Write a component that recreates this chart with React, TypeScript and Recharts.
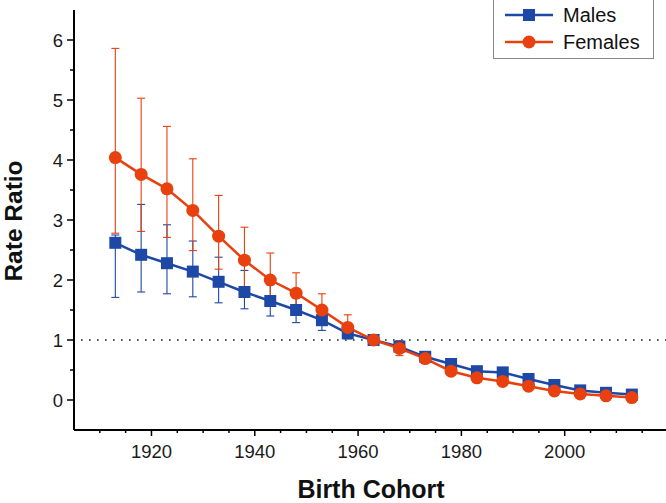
import { ComposedChart, Line, XAxis, YAxis, ErrorBar, ReferenceLine, Legend, Label } from 'recharts'

const years = [1913, 1918, 1923, 1928, 1933, 1938, 1943, 1948, 1953, 1958, 1963, 1968, 1973, 1978, 1983, 1988, 1993, 1998, 2003, 2008, 2013]
const males = [2.62, 2.42, 2.28, 2.14, 1.97, 1.80, 1.65, 1.50, 1.33, 1.11, 1.0, 0.89, 0.72, 0.6, 0.48, 0.46, 0.35, 0.25, 0.16, 0.12, 0.09]
const malesLow = [1.71, 1.8, 1.77, 1.72, 1.62, 1.52, 1.4, 1.29, 1.16, 1.02, 0.96, 0.83, 0.67, 0.55, 0.44, 0.42, 0.32, 0.22, 0.14, 0.1, 0.07]
const malesHigh = [2.75, 3.26, 2.92, 2.65, 2.38, 2.16, 1.92, 1.7, 1.52, 1.22, 1.04, 0.95, 0.77, 0.65, 0.52, 0.5, 0.38, 0.28, 0.18, 0.14, 0.11]
const females = [4.04, 3.76, 3.52, 3.16, 2.73, 2.33, 2.0, 1.78, 1.5, 1.21, 1.0, 0.86, 0.69, 0.48, 0.37, 0.31, 0.23, 0.15, 0.1, 0.07, 0.04]
const femalesLow = [2.78, 2.81, 2.71, 2.49, 2.18, 1.89, 1.64, 1.47, 1.25, 1.03, 0.96, 0.74, 0.62, 0.43, 0.33, 0.27, 0.2, 0.12, 0.08, 0.05, 0.02]
const femalesHigh = [5.86, 5.03, 4.56, 4.02, 3.41, 2.88, 2.45, 2.12, 1.77, 1.42, 1.05, 0.99, 0.77, 0.54, 0.42, 0.35, 0.27, 0.18, 0.12, 0.09, 0.06]

const xTicks = [1910, 1915, 1920, 1925, 1930, 1935, 1940, 1945, 1950, 1955, 1960, 1965, 1970, 1975, 1980, 1985, 1990, 1995, 2000, 2005, 2010, 2015]
const yTicks = [0, 0.5, 1, 1.5, 2, 2.5, 3, 3.5, 4, 4.5, 5, 5.5, 6]

const BLUE = '#1d48a6'
const RED = '#e8400e'
const FONT = '"Liberation Sans", Arial, sans-serif'

const data = years.map((year, i) => ({
  year,
  males: males[i],
  females: females[i],
  malesErr: [males[i] - malesLow[i], malesHigh[i] - males[i]],
  femalesErr: [females[i] - femalesLow[i], femalesHigh[i] - females[i]],
}))

const XTick = ({ x, y, payload }: any) => {
  const major = payload.value % 20 === 0
  return (
    <g>
      <line x1={x} x2={x} y1={y} y2={y + (major ? 6 : 3)} stroke="#000" strokeWidth={1.5} />
      {major && (
        <text x={x} y={y + 28} textAnchor="middle" fontSize={18.5} fontFamily={FONT} fill="#1a1a1a">
          {payload.value}
        </text>
      )}
    </g>
  )
}

const YTick = ({ x, y, payload }: any) => {
  const major = Number.isInteger(payload.value)
  return (
    <g>
      <line x1={x - (major ? 7 : 4)} x2={x} y1={y} y2={y} stroke="#000" strokeWidth={1.5} />
      {major && (
        <text x={x - 11} y={y + 6.5} textAnchor="end" fontSize={18.5} fontFamily={FONT} fill="#1a1a1a">
          {payload.value}
        </text>
      )}
    </g>
  )
}

const SquareDot = (p: any) => <rect key={p.index} x={p.cx - 6} y={p.cy - 6} width={12} height={12} fill={BLUE} />
const CircleDot = (p: any) => <circle key={p.index} cx={p.cx} cy={p.cy} r={6.5} fill={RED} />

const LegendBox = () => (
  <div style={{ position: 'relative', border: '1px solid #888', background: '#fff', width: 161, height: 60, boxSizing: 'border-box', fontFamily: FONT, fontSize: 20, color: '#111' }}>
    {[
      { name: 'Males', color: BLUE, square: true },
      { name: 'Females', color: RED, square: false },
    ].map((it, i) => (
      <div key={it.name} style={{ position: 'absolute', left: 10, top: 3 + i * 27, display: 'flex', alignItems: 'center', height: 24 }}>
        <svg width={50} height={16} style={{ marginRight: 9 }}>
          <line x1={1} x2={49} y1={8} y2={8} stroke={it.color} strokeWidth={2.5} />
          {it.square ? <rect x={19} y={2} width={12} height={12} fill={it.color} /> : <circle cx={25} cy={8} r={6.5} fill={it.color} />}
        </svg>
        <span>{it.name}</span>
      </div>
    ))}
  </div>
)

export default function App() {
  return (
    <div style={{ position: 'absolute', left: 0, top: 0, background: '#fff' }}>
      <ComposedChart width={666} height={503} data={data} margin={{ top: 10, right: -2, bottom: 0, left: 0 }}>
        <XAxis
          dataKey="year"
          type="number"
          domain={[1905, 2020]}
          ticks={xTicks}
          interval={0}
          tick={<XTick />}
          tickLine={false}
          tickSize={0}
          tickMargin={0}
          height={73}
          axisLine={{ stroke: '#000', strokeWidth: 2 }}
        >
          <Label
            content={({ viewBox }: any) => (
              <text x={viewBox.x + viewBox.width / 2} y={viewBox.y + 67.5} textAnchor="middle" fontSize={25} fontWeight="bold" fontFamily={FONT} fill="#111">
                Birth Cohort
              </text>
            )}
          />
        </XAxis>
        <YAxis
          type="number"
          domain={[-0.5, 6.5]}
          ticks={yTicks}
          interval={0}
          tick={<YTick />}
          tickLine={false}
          tickSize={0}
          tickMargin={0}
          width={74}
          axisLine={{ stroke: '#000', strokeWidth: 2 }}
        >
          <Label
            content={({ viewBox }: any) => {
              const cy = viewBox.y + viewBox.height / 2 + 1
              return (
                <text x={22} y={cy} transform={`rotate(-90 22 ${cy})`} textAnchor="middle" fontSize={24.5} fontWeight="bold" fontFamily={FONT} fill="#111">
                  Rate Ratio
                </text>
              )
            }}
          />
        </YAxis>
        <ReferenceLine y={1} stroke="#222" strokeWidth={1.6} strokeDasharray="1.6 6.4" strokeDashoffset={-7} />
        <Line dataKey="males" name="Males" stroke={BLUE} strokeWidth={2.5} dot={SquareDot} activeDot={false} isAnimationActive={false}>
          <ErrorBar dataKey="malesErr" direction="y" width={4} stroke={BLUE} strokeWidth={1.1} />
        </Line>
        <Line dataKey="females" name="Females" stroke={RED} strokeWidth={2.5} dot={CircleDot} activeDot={false} isAnimationActive={false}>
          <ErrorBar dataKey="femalesErr" direction="y" width={4} stroke={RED} strokeWidth={1.1} />
        </Line>
        <Legend
          layout="vertical"
          align="center"
          verticalAlign="middle"
          content={<LegendBox />}
          wrapperStyle={{ position: 'absolute', left: 493, top: -1, width: 161, height: 60 }}
        />
      </ComposedChart>
    </div>
  )
}
